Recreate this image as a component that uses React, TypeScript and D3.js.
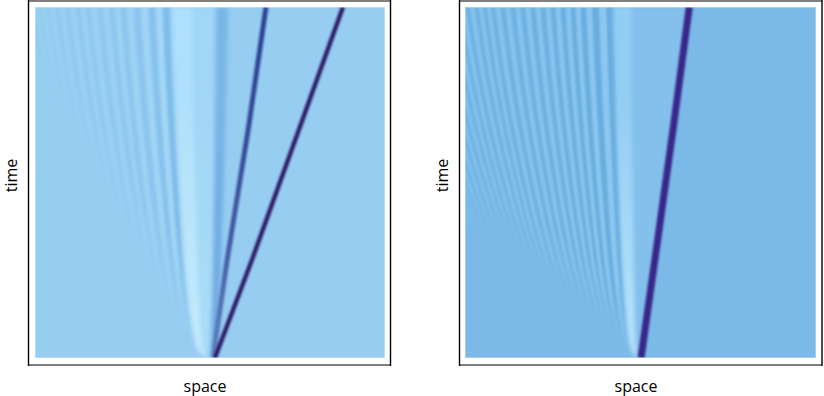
import * as d3 from 'd3';
import { useEffect, useRef } from 'react';

// how far a ripple has travelled, as a share of its final offset, over time
const profileTime = [0, 0.02, 0.05, 0.1, 0.2, 0.35, 0.5, 0.7, 0.85, 1];
const profileShift = [0, 0.27, 0.37, 0.46, 0.58, 0.7, 0.79, 0.89, 0.95, 1];

// left panel, ripple crests: offset from the origin at the last time step
const leftOrigin = -0.6;
const leftCrests = [-12, -16, -20.3, -24.3, -27.4, -30.9, -34.3, -37.1, -40.3, -43.1, -45.7, -48, -50];
const leftCrestFade = [0.06, 0.1, 0.14, 0.2, 0.26, 0.33, 0.4, 0.47, 0.55, 0.62, 0.68, 0.72, 0.76];
const leftCrestStrength = [0.8, 0.55, 0.42, 0.36, 0.32, 0.3, 0.28, 0.26, 0.24, 0.22, 0.2, 0.18, 0.16];
const leftSolitonTime = [0, 0.28, 0.65, 1];
const leftFastSoliton = [1.4, 12, 25.4, 38];
const leftSlowSoliton = [0.9, 4.9, 10.9, 16];
const leftSlowOpacityTime = [0, 0.1, 0.28, 0.65, 1];
const leftSlowOpacity = [0.45, 0.55, 0.75, 0.9, 0.95];
const leftBandLow = [-10.3, -4.6, 2.2];
const leftBandHigh = [-4.6, 2.2, 5.8];
const leftBandTop = ['#aee0fb', '#a1d6f6', '#7ab6e7'];
const leftBandBottom = ['#c2e9fc', '#a8dcf8', '#6da8e0'];

// right panel
const rightOrigin = -0.7;
const rightCrests = [-8, -12.3, -15.7, -18.6, -21.4, -24.3, -27.1, -30, -32.9, -35.7, -38.6, -41.4, -43.7, -46, -48.6, -50.9, -53.1, -55.4, -57.7, -60, -62.3, -64.6, -66.9];
const rightCrestFade = [0.02, 0.03, 0.05, 0.07, 0.08, 0.1, 0.12, 0.14, 0.16, 0.18, 0.2, 0.22, 0.25, 0.27, 0.29, 0.3, 0.31, 0.32, 0.33, 0.34, 0.35, 0.36, 0.365];
const rightCrestStrength = [1, 0.95, 0.9, 0.85, 0.8, 0.78, 0.75, 0.72, 0.7, 0.68, 0.66, 0.64, 0.62, 0.6, 0.6, 0.58, 0.56, 0.54, 0.52, 0.5, 0.5, 0.48, 0.46];
const rightSolitonTime = [0, 0.33, 0.66, 1];
const rightSoliton = [0.15, 4.8, 9.4, 13.9];
const rightBandLow = [-7.1];
const rightBandHigh = [-2];
const rightBandTop = ['#93cdf3'];
const rightBandBottom = ['#b2e1fa'];

const solitonDark = '#2e1d68';
const solitonDeep = '#38268a';
const solitonBlue = '#2a3a8e';

function drawPanel(svg: any, cfg: any) {
    const { id, x0, x1 } = cfg;
    const xScale = d3.scaleLinear().domain([-50, 50]).range([x0, x1]);
    const yScale = d3.scaleLinear().domain([0, 1]).range([358, 7]);
    const shift = d3.scaleLinear().domain(profileTime).range(profileShift);
    const defs = svg.append('defs');

    defs.append('clipPath').attr('id', id + '-clip')
        .append('rect')
        .attr('x', x0).attr('y', 7)
        .attr('width', x1 - x0).attr('height', 351);

    const addBlur = (name: string, dev: number) => {
        defs.append('filter').attr('id', id + name)
            .attr('filterUnits', 'userSpaceOnUse')
            .attr('x', x0 - 20).attr('y', -20)
            .attr('width', x1 - x0 + 40).attr('height', 420)
            .append('feGaussianBlur').attr('stdDeviation', dev);
    };
    addBlur('-b1', cfg.stripeBlur);
    addBlur('-b2', 2.1);
    addBlur('-b3', 0.9);

    const g = svg.append('g').attr('clip-path', `url(#${id}-clip)`);
    g.append('rect')
        .attr('x', x0).attr('y', 7)
        .attr('width', x1 - x0).attr('height', 351)
        .attr('fill', cfg.base);

    // ripple stripes: wedges between two offsets, bent by the travel profile
    const wedge = (lo: number, hi: number, hiTrack?: (t: number) => number) =>
        d3.area<number>()
            .y((t) => yScale(t))
            .x0((t) => xScale(cfg.origin + lo * shift(t)))
            .x1((t) => hiTrack ? xScale(hiTrack(t)) : xScale(cfg.origin + hi * shift(t)))
            .curve(d3.curveMonotoneY)(profileTime);

    const stripes = g.append('g').attr('filter', `url(#${id}-b1)`);
    const addStripe = (lo: number, hi: number, name: string, color: string, fade: number, strength: number) => {
        const grad = defs.append('linearGradient').attr('id', name)
            .attr('gradientUnits', 'userSpaceOnUse')
            .attr('x1', 0).attr('x2', 0)
            .attr('y1', yScale(fade))
            .attr('y2', yScale(Math.min(1, fade + cfg.fadeSpan)));
        grad.append('stop').attr('offset', 0).attr('stop-color', color).attr('stop-opacity', 0);
        grad.append('stop').attr('offset', 1).attr('stop-color', color).attr('stop-opacity', strength);
        stripes.append('path').attr('d', wedge(lo, hi)).attr('fill', `url(#${name})`);
    };
    const crests: number[] = cfg.crests;
    crests.forEach((c, i) => {
        const next = i < crests.length - 1 ? crests[i + 1] : c - (crests[i - 1] - c);
        const prev = i > 0 ? crests[i - 1] : c + (c - next);
        const strength = cfg.strength[i];
        addStripe(c - (c - next) * 0.27, c + (prev - c) * 0.27, `${id}-d${i}`, cfg.dark, cfg.fade[i], strength);
        if (i < crests.length - 1) {
            addStripe(next + (c - next) * 0.25, c - (c - next) * 0.25, `${id}-l${i}`, cfg.light, cfg.fade[i], strength);
        }
    });

    // central light and dark bands
    const bands = g.append('g').attr('filter', `url(#${id}-b2)`);
    if (cfg.fillToSoliton) {
        const track = d3.scaleLinear().domain(cfg.solitonTime).range(cfg.soliton);
        bands.append('path')
            .attr('d', wedge(cfg.bandHigh[0], 0, (t) => track(t) as number))
            .attr('fill', cfg.fillToSoliton);
    }
    cfg.bandLow.forEach((lo: number, i: number) => {
        const name = `${id}-band${i}`;
        const grad = defs.append('linearGradient').attr('id', name)
            .attr('gradientUnits', 'userSpaceOnUse')
            .attr('x1', 0).attr('x2', 0)
            .attr('y1', yScale(0.12)).attr('y2', yScale(0.75));
        grad.append('stop').attr('offset', 0).attr('stop-color', cfg.bandBottom[i]);
        grad.append('stop').attr('offset', 1).attr('stop-color', cfg.bandTop[i]);
        bands.append('path').attr('d', wedge(lo, cfg.bandHigh[i])).attr('fill', `url(#${name})`);
    });

    // solitons
    const solitons = g.append('g').attr('filter', `url(#${id}-b3)`);
    cfg.tracks.forEach((tr: any, i: number) => {
        const line = d3.line<number>()
            .x((_, k) => xScale(tr.space[k]))
            .y((t) => yScale(t));
        let stroke = tr.color;
        if (tr.opacityTime) {
            const name = `${id}-s${i}`;
            const grad = defs.append('linearGradient').attr('id', name)
                .attr('gradientUnits', 'userSpaceOnUse')
                .attr('x1', 0).attr('x2', 0)
                .attr('y1', yScale(0)).attr('y2', yScale(1));
            tr.opacityTime.forEach((t: number, k: number) => {
                grad.append('stop').attr('offset', t)
                    .attr('stop-color', tr.color).attr('stop-opacity', tr.opacity[k]);
            });
            stroke = `url(#${name})`;
        }
        solitons.append('path')
            .attr('d', line(cfg.solitonTime))
            .attr('fill', 'none')
            .attr('stroke', stroke)
            .attr('stroke-width', tr.width);
    });

    // soft pale edge of the image
    svg.append('rect')
        .attr('x', x0 + 0.5).attr('y', 7.5)
        .attr('width', x1 - x0 - 1).attr('height', 350)
        .attr('fill', 'none')
        .attr('stroke', '#fff')
        .attr('stroke-opacity', 0.3);

    // frame
    const fx0 = cfg.frameX0, fx1 = cfg.frameX1;
    svg.append('line').attr('x1', fx0).attr('x2', fx1).attr('y1', 1).attr('y2', 1)
        .attr('stroke', '#7f7f7f').attr('stroke-width', 2);
    svg.append('line').attr('x1', fx0).attr('x2', fx1).attr('y1', 365).attr('y2', 365)
        .attr('stroke', '#7f7f7f').attr('stroke-width', 2);
    svg.append('line').attr('x1', fx0).attr('x2', fx0).attr('y1', 0).attr('y2', 366)
        .attr('stroke', '#000').attr('stroke-width', 1.4);
    svg.append('line').attr('x1', fx1).attr('x2', fx1).attr('y1', 0).attr('y2', 366)
        .attr('stroke', '#000').attr('stroke-width', 1.4);

    // axis labels
    svg.append('text')
        .attr('x', cfg.labelX).attr('y', 391.5)
        .attr('text-anchor', 'middle')
        .attr('font-family', 'Open Sans')
        .attr('font-size', 16)
        .text('space');
    svg.append('text')
        .attr('transform', `translate(${fx0 - 11.5},175.5) rotate(-90)`)
        .attr('text-anchor', 'middle')
        .attr('font-family', 'Open Sans')
        .attr('font-size', 16)
        .text('time');
}

export default function App() {
    const ref = useRef<SVGSVGElement>(null);

    useEffect(() => {
        const svg = d3.select(ref.current);
        svg.selectAll('*').remove();
        drawPanel(svg, {
            id: 'left', x0: 35, x1: 385, frameX0: 28.5, frameX1: 390.5, labelX: 205,
            base: '#97cdf1', dark: '#78b8e8', light: '#a8daf7', stripeBlur: 1.8, fadeSpan: 0.3,
            origin: leftOrigin, crests: leftCrests, fade: leftCrestFade, strength: leftCrestStrength,
            bandLow: leftBandLow, bandHigh: leftBandHigh, bandTop: leftBandTop, bandBottom: leftBandBottom,
            solitonTime: leftSolitonTime, soliton: leftFastSoliton,
            tracks: [
                { space: leftSlowSoliton, color: solitonBlue, width: 5, opacityTime: leftSlowOpacityTime, opacity: leftSlowOpacity },
                { space: leftFastSoliton, color: solitonDark, width: 4.4 },
            ],
        });
        drawPanel(svg, {
            id: 'right', x0: 465, x1: 816, frameX0: 459.5, frameX1: 822, labelX: 636,
            base: '#7bbae8', dark: '#67acdf', light: '#8cc7f0', stripeBlur: 1.2, fadeSpan: 0.2,
            origin: rightOrigin, crests: rightCrests, fade: rightCrestFade, strength: rightCrestStrength,
            bandLow: rightBandLow, bandHigh: rightBandHigh, bandTop: rightBandTop, bandBottom: rightBandBottom,
            fillToSoliton: '#83c0ec',
            solitonTime: rightSolitonTime, soliton: rightSoliton,
            tracks: [{ space: rightSoliton, color: solitonDeep, width: 7 }],
        });
    }, []);

    return (
        <svg
            ref={ref}
            width={824}
            height={396}
            style={{ position: 'absolute', left: 0, top: 0, background: '#fff' }}
        />
    );
}
